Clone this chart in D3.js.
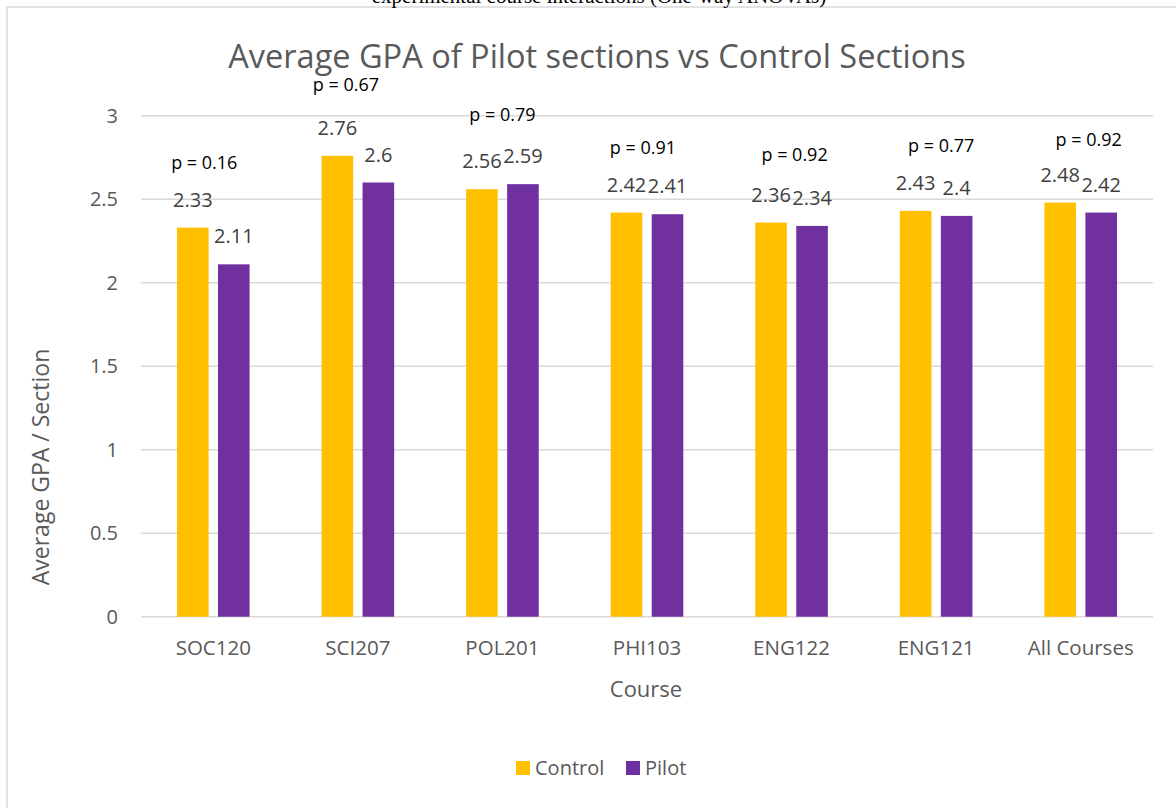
<!DOCTYPE html>
<html>
<head>
<meta charset="utf-8">
<script src="https://cdn.jsdelivr.net/npm/d3@7"></script>
<style>
  body { margin: 0; background: #fff; }
  svg { display: block; font-family: "Open Sans", sans-serif; }
</style>
</head>
<body>
<figure style="margin:0"></figure>
<script>
const width = 1176
const height = 808

// data
const courses = ['SOC120', 'SCI207', 'POL201', 'PHI103', 'ENG122', 'ENG121', 'All Courses']
const control = [2.33, 2.76, 2.56, 2.42, 2.36, 2.43, 2.48]
const pilot = [2.11, 2.6, 2.59, 2.41, 2.34, 2.4, 2.42]
const pValues = ['0.16', '0.67', '0.79', '0.91', '0.92', '0.77', '0.92']
const yTicks = [0, 0.5, 1, 1.5, 2, 2.5, 3]

// where the p text boxes were dropped: x nudge (px) from the course centre, y in GPA units
const pNudgeX = [-9, -12, 0, -4, 3, 5, 8]
const pLevel = [2.68, 3.15, 2.97, 2.77, 2.73, 2.78, 2.82]

const series = [
  { name: 'Control', values: control, color: '#FFC000' },
  { name: 'Pilot', values: pilot, color: '#7030A0' }
]

const svg = d3.select('figure').append('svg')
  .attr('width', width)
  .attr('height', height)

// chart frame
svg.append('rect')
  .attr('x', 7).attr('y', 7)
  .attr('width', width + 20).attr('height', height + 20)
  .attr('fill', 'none')
  .attr('stroke', '#D9D9D9')
  .attr('stroke-width', 1.5)

// leftover caption from the page above, mostly cut off
svg.append('text')
  .attr('x', 599).attr('y', 3)
  .attr('text-anchor', 'middle')
  .style('font-family', '"Liberation Serif", serif')
  .style('font-size', '21px')
  .attr('fill', '#000')
  .text('experimental course interactions (One-way ANOVAs)')

// scales
const x = d3.scaleBand().domain(courses).range([141, 1153])
const y = d3.scaleLinear().domain([0, 3]).range([616.7, 115.7])
const barW = 31.6
const innerGap = 9.4
const barX = (i, s) => x(courses[i]) + x.bandwidth() / 2 + (s === 0 ? -innerGap / 2 - barW : innerGap / 2)

// gridlines
svg.append('g')
  .selectAll('line')
  .data(yTicks)
  .join('line')
    .attr('x1', 141).attr('x2', 1153)
    .attr('y1', d => y(d)).attr('y2', d => y(d))
    .attr('stroke', '#D9D9D9')
    .attr('stroke-width', 1.5)

// y axis labels
const yAxis = svg.append('g')
  .attr('transform', 'translate(118,0)')
  .call(d3.axisLeft(y).tickValues(yTicks).tickSize(0).tickPadding(0).tickFormat(d3.format('')))
yAxis.select('.domain').remove()
yAxis.selectAll('text')
  .style('font-family', '"Open Sans", sans-serif')
  .style('font-size', '20px')
  .attr('fill', '#595959')

// x axis labels
const xAxis = svg.append('g')
  .attr('transform', `translate(0,${y(0)})`)
  .call(d3.axisBottom(x).tickSize(0).tickPadding(24))
xAxis.select('.domain').remove()
xAxis.selectAll('text')
  .style('font-family', '"Open Sans", sans-serif')
  .style('font-size', '20.5px')
  .attr('fill', '#595959')

// bars
const groups = svg.selectAll('g.series')
  .data(series)
  .join('g')
    .attr('class', 'series')
    .attr('fill', d => d.color)

groups.selectAll('rect')
  .data((d, s) => d.values.map((v, i) => ({ v, i, s })))
  .join('rect')
    .attr('x', d => barX(d.i, d.s))
    .attr('y', d => y(d.v))
    .attr('width', barW)
    .attr('height', d => y(0) - y(d.v))

// data labels
groups.selectAll('text')
  .data((d, s) => d.values.map((v, i) => ({ v, i, s })))
  .join('text')
    .attr('x', d => barX(d.i, d.s) + barW / 2)
    .attr('y', d => y(d.v) - 21)
    .attr('text-anchor', 'middle')
    .style('font-size', '20px')
    .attr('fill', '#404040')
    .text(d => d.v)

// p values
svg.append('g')
  .selectAll('text')
  .data(pValues)
  .join('text')
    .attr('x', (d, i) => x(courses[i]) + x.bandwidth() / 2 + pNudgeX[i])
    .attr('y', (d, i) => y(pLevel[i]))
    .attr('text-anchor', 'middle')
    .style('font-size', '18px')
    .attr('fill', '#000')
    .text(d => 'p = ' + d)

// title
svg.append('text')
  .attr('x', 597).attr('y', 68)
  .attr('text-anchor', 'middle')
  .style('font-size', '32.5px')
  .attr('fill', '#595959')
  .text('Average GPA of Pilot sections vs Control Sections')

// axis titles
svg.append('text')
  .attr('x', 646).attr('y', 697)
  .attr('text-anchor', 'middle')
  .style('font-size', '22px')
  .attr('fill', '#595959')
  .text('Course')

svg.append('text')
  .attr('transform', 'translate(49,467) rotate(-90)')
  .attr('text-anchor', 'middle')
  .style('font-size', '23px')
  .attr('fill', '#595959')
  .text('Average GPA / Section')

// legend
const legend = svg.append('g')
  .selectAll('g')
  .data(series)
  .join('g')
    .attr('transform', (d, i) => `translate(${i === 0 ? 516 : 626},761)`)
legend.append('rect')
  .attr('width', 14).attr('height', 14)
  .attr('fill', d => d.color)
legend.append('text')
  .attr('x', 19).attr('y', 14)
  .style('font-size', '20px')
  .attr('fill', '#595959')
  .text(d => d.name)
</script>
</body>
</html>
